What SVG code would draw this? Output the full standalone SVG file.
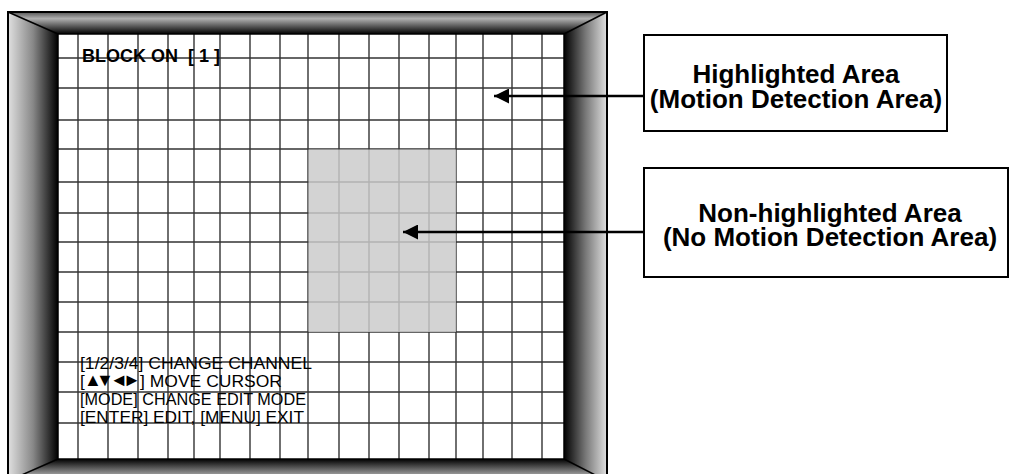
<svg xmlns="http://www.w3.org/2000/svg" width="1013" height="474" viewBox="0 0 1013 474">
<style>
.grid line{stroke:#333;stroke-width:1.4}
.osd{font-family:"Liberation Sans",Arial,"DejaVu Sans",sans-serif;font-size:17px;fill:#000}
.tri{font-family:"Liberation Sans",Arial,"DejaVu Sans",sans-serif;font-size:18px;fill:#000}
.osdb{font-family:"Liberation Sans",Arial,sans-serif;font-size:18px;font-weight:bold;fill:#000;white-space:pre}
.lbl{font-family:"Liberation Sans",Arial,sans-serif;font-size:26px;font-weight:bold;fill:#000;text-anchor:middle}
.box{fill:#fff;stroke:#000;stroke-width:2}
.conn{stroke:#000;stroke-width:2.5;fill:none}
</style>
<defs>
<linearGradient id="gTop" x1="0" y1="0" x2="0" y2="1"><stop offset="0" stop-color="#555"/><stop offset="0.3" stop-color="#b0b0b0"/><stop offset="1" stop-color="#000"/></linearGradient>
<linearGradient id="gBot" x1="0" y1="0" x2="0" y2="1"><stop offset="0" stop-color="#000"/><stop offset="0.7" stop-color="#999"/><stop offset="1" stop-color="#bbb"/></linearGradient>
<linearGradient id="gLeft" x1="0" y1="0" x2="1" y2="0"><stop offset="0" stop-color="#e0e0e0"/><stop offset="0.5" stop-color="#888"/><stop offset="1" stop-color="#000"/></linearGradient>
<linearGradient id="gRight" x1="0" y1="0" x2="1" y2="0"><stop offset="0" stop-color="#000"/><stop offset="0.5" stop-color="#777"/><stop offset="1" stop-color="#e0e0e0"/></linearGradient>
<marker id="ah" viewBox="0 0 15 15" refX="15" refY="7.5" markerWidth="15" markerHeight="15" markerUnits="userSpaceOnUse" orient="auto"><path d="M0,0 L15,7.5 L0,15 Z" fill="#000"/></marker>
</defs>
<rect width="1013" height="474" fill="#fff"/>
<g id="screen">
<rect x="58" y="34" width="506" height="425" fill="#fff"/>
<g class="grid">
<line x1="78" y1="34" x2="78" y2="459"/><line x1="108" y1="34" x2="108" y2="459"/><line x1="138" y1="34" x2="138" y2="459"/><line x1="168" y1="34" x2="168" y2="459"/><line x1="194" y1="34" x2="194" y2="459"/><line x1="220" y1="34" x2="220" y2="459"/><line x1="250" y1="34" x2="250" y2="459"/><line x1="280" y1="34" x2="280" y2="459"/><line x1="308" y1="34" x2="308" y2="459"/><line x1="339" y1="34" x2="339" y2="459"/><line x1="369" y1="34" x2="369" y2="459"/><line x1="399" y1="34" x2="399" y2="459"/><line x1="429" y1="34" x2="429" y2="459"/><line x1="456" y1="34" x2="456" y2="459"/><line x1="483" y1="34" x2="483" y2="459"/><line x1="512" y1="34" x2="512" y2="459"/><line x1="542" y1="34" x2="542" y2="459"/>
<line x1="58" y1="58" x2="564" y2="58"/><line x1="58" y1="88" x2="564" y2="88"/><line x1="58" y1="120" x2="564" y2="120"/><line x1="58" y1="149" x2="564" y2="149"/><line x1="58" y1="182" x2="564" y2="182"/><line x1="58" y1="213" x2="564" y2="213"/><line x1="58" y1="242" x2="564" y2="242"/><line x1="58" y1="272" x2="564" y2="272"/><line x1="58" y1="302" x2="564" y2="302"/><line x1="58" y1="332" x2="564" y2="332"/><line x1="58" y1="362" x2="564" y2="362"/><line x1="58" y1="392" x2="564" y2="392"/><line x1="58" y1="423" x2="564" y2="423"/>
</g>
<rect id="masked" x="308.5" y="149.5" width="147.5" height="182.5" fill="#cacaca" fill-opacity="0.84"/>
<text class="osdb" x="82" y="62" xml:space="preserve">BLOCK ON  [ 1 ]</text>
<text class="osd" x="80" y="369" textLength="232" lengthAdjust="spacingAndGlyphs">[1/2/3/4] CHANGE CHANNEL</text>
<text class="osd" x="80" y="387">[</text>
<text class="tri" x="84 96 110 123" y="386">▲▼◄►</text>
<text class="osd" x="140" y="387" textLength="142" lengthAdjust="spacingAndGlyphs">] MOVE CURSOR</text>
<text class="osd" x="80" y="405" textLength="226" lengthAdjust="spacingAndGlyphs">[MODE] CHANGE EDIT MODE</text>
<text class="osd" x="80" y="423" textLength="224" lengthAdjust="spacingAndGlyphs">[ENTER] EDIT, [MENU] EXIT</text>
</g>
<g id="frame">
<polygon points="8,12 607,12 564,34 58,34" fill="url(#gTop)"/>
<polygon points="8,481 58,459 564,459 607,481" fill="url(#gBot)"/>
<polygon points="8,12 58,34 58,459 8,481" fill="url(#gLeft)"/>
<polygon points="607,12 564,34 564,459 607,481" fill="url(#gRight)"/>
<rect x="58" y="34" width="506" height="425" fill="none" stroke="#000" stroke-width="1.5"/>
<path d="M8,12 L58,34 M607,12 L564,34 M8,481 L58,459 M607,481 L564,459" stroke="#000" stroke-width="1.5"/>
<rect x="8" y="12" width="599" height="469" fill="none" stroke="#000" stroke-width="2"/>
</g>
<g id="connectors">
<line class="conn" x1="644" y1="96" x2="494" y2="96" marker-end="url(#ah)"/>
<line class="conn" x1="644" y1="232" x2="403" y2="232" marker-end="url(#ah)"/>
</g>
<g id="highlighted">
<rect class="box" x="644" y="35" width="303" height="96"/>
<text class="lbl" x="796" y="83">Highlighted Area</text>
<text class="lbl" x="796" y="108">(Motion Detection Area)</text>
</g>
<g id="nonhighlighted">
<rect class="box" x="644" y="168" width="364" height="109"/>
<text class="lbl" x="830" y="222">Non-highlighted Area</text>
<text class="lbl" x="830" y="246">(No Motion Detection Area)</text>
</g>
</svg>
